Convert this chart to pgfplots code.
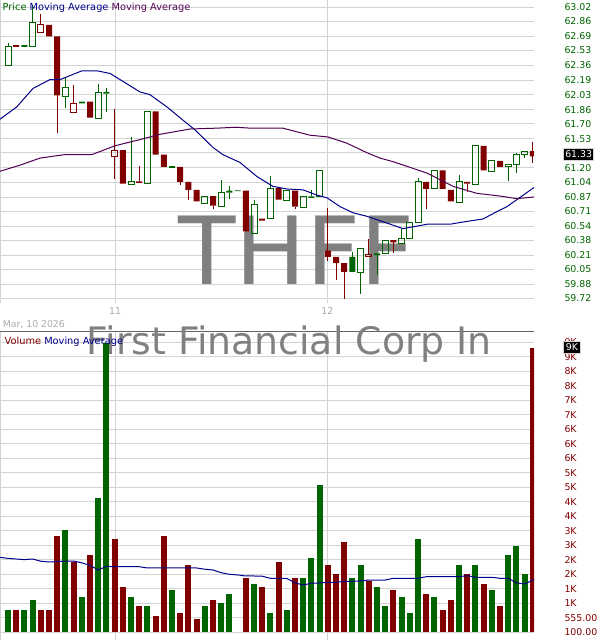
\documentclass[border=0pt]{standalone}
\usepackage{pgfplots}
\pgfplotsset{compat=1.18}
\usepackage{pgfplotstable}
\usepackage{fontspec}
\setmainfont{DejaVu Sans}
\definecolor{cg}{RGB}{0,100,0}
\definecolor{cr}{RGB}{128,0,0}
\definecolor{mablue}{RGB}{0,0,139}
\definecolor{mapurple}{RGB}{80,0,80}
\definecolor{gridc}{RGB}{211,211,211}
\definecolor{topc}{RGB}{100,100,100}
\definecolor{lab}{RGB}{170,170,170}
\definecolor{wm}{RGB}{128,128,128}
\newcommand\tf{\fontsize{9.4bp}{10bp}\selectfont}
\newcommand\ttf{\fontsize{9.8bp}{10bp}\selectfont}

% green hollow candles
\pgfplotstableread{
i o h l c
0 62.36 62.62 62.36 62.58
3 62.58 63.05 62.58 62.85
7 62.01 62.22 61.88 62.11
11 61.76 62.15 61.76 62.05
15 61.01 61.55 61.01 61.04
17 61.02 61.84 61.02 61.84
24 60.80 60.88 60.80 60.88
26 60.76 61.06 60.76 60.92
30 60.46 60.84 60.46 60.78
32 60.62 61.11 60.62 60.97
34 60.83 60.94 60.83 60.94
36 60.75 60.87 60.75 60.87
38 60.87 61.17 60.87 61.17
43 60.01 60.28 59.77 60.28
46 60.23 60.38 60.23 60.38
48 60.34 60.51 60.34 60.40
49 60.40 60.58 60.40 60.58
50 60.58 61.09 60.58 61.04
52 60.96 61.17 60.96 61.17
55 60.81 61.12 60.81 61.04
57 61.01 61.45 61.01 61.45
59 61.16 61.28 61.16 61.28
61 61.21 61.24 61.05 61.24
62 61.24 61.37 61.14 61.35
63 61.35 61.39 61.31 61.39
}\gh
% green filled candles
\pgfplotstableread{
i o h l c
2 62.59 62.59 62.57 62.57
9 61.95 61.95 61.93 61.93
12 62.06 62.11 61.83 62.04
20 61.22 61.22 61.20 61.20
27 60.94 60.99 60.85 60.92
28 60.945 60.945 60.935 60.935
37 60.875 60.95 60.86 60.86
42 60.19 60.24 60.02 60.02
45 60.23 60.23 59.99 60.21
}\gf
% red hollow candles
\pgfplotstableread{
i o h l c
4 62.73 62.94 62.73 62.82
8 61.83 62.14 61.83 61.93
13 61.33 61.87 61.07 61.40
44 60.19 60.39 60.19 60.22
}\rh
% red filled candles
\pgfplotstableread{
i o h l c
1 62.59 62.59 62.57 62.57
5 62.82 62.82 62.69 62.69
6 62.69 62.69 61.59 62.02
10 61.95 61.95 61.77 61.77
14 61.40 61.40 61.02 61.02
16 61.045 61.22 61.03 61.03
18 61.84 61.84 61.35 61.35
19 61.35 61.35 61.21 61.21
21 61.21 61.21 61.00 61.04
22 61.04 61.04 60.84 60.95
23 60.95 60.95 60.82 60.82
25 60.88 60.88 60.73 60.77
29 60.94 60.94 60.48 60.48
31 60.625 60.625 60.60 60.60
33 60.97 60.97 60.84 60.84
35 60.94 60.94 60.73 60.76
39 60.26 60.74 60.14 60.19
40 60.19 60.19 59.93 60.12
41 60.12 60.12 59.71 60.02
47 60.38 60.38 60.23 60.355
51 61.04 61.04 60.73 60.96
53 61.17 61.17 60.96 60.96
54 60.95 60.95 60.82 60.82
56 61.04 61.04 60.93 61.02
58 61.45 61.45 61.17 61.17
60 61.28 61.28 61.21 61.21
64 61.39 61.49 61.26 61.33
}\rf
% short moving average (blue)
\pgfplotstableread{
x p
-1.0 61.75
1.06 61.89
3.05 62.10
5.12 62.20
6.34 62.20
9.02 62.30
10.85 62.30
12.44 62.27
14.02 62.18
16.1 62.06
17.3 62.03
19.39 61.89
21.34 61.74
22.8 61.63
24.02 61.52
25.0 61.43
26.2 61.35
28.3 61.26
30.37 61.10
32.3 60.99
34.0 60.96
35.98 60.95
37.68 60.89
38.9 60.86
40.49 60.76
42.07 60.69
43.78 60.65
45.37 60.60
46.95 60.55
48.17 60.51
51.1 60.56
53.9 60.56
55.12 60.58
57.93 60.62
59.15 60.68
60.85 60.76
62.07 60.84
64.2 60.98
}\mashort
% long moving average (purple)
\pgfplotstableread{
x p
-1.0 61.16
1.46 61.23
3.9 61.31
6.95 61.35
10.24 61.35
13.05 61.45
16.1 61.52
18.54 61.58
22.2 61.64
25.6 61.65
27.7 61.66
29.5 61.65
33.5 61.65
36.8 61.57
39.0 61.55
41.3 61.48
43.8 61.37
45.37 61.31
46.95 61.27
51.1 61.14
54.27 60.99
57.2 60.91
60.0 60.88
62.07 60.85
64.2 60.87
}\malong
% volume, up days
\pgfplotstableread{
i v
0 800
2 800
3 1113
7 3310
9 1208
11 4314
12 9190
15 1208
17 925
20 1427
24 925
26 1019
27 1302
30 1616
32 706
34 800
36 1804
37 2432
38 4722
42 1804
43 2212
45 1522
46 925
48 1208
49 706
50 3028
52 1208
55 2212
57 2212
59 1427
61 2526
62 2808
63 1929
}\vg
% volume, down days
\pgfplotstableread{
i v
1 800
4 800
5 800
6 3122
8 2315
10 2526
13 3028
14 1522
16 925
18 611
19 3122
21 706
22 2212
23 517
25 1113
29 1804
31 1522
33 2306
35 1804
39 2212
40 1929
41 2934
44 1710
47 1427
51 1302
53 800
54 1113
56 1929
58 1616
60 925
64 9030
}\vr
% volume moving average
\pgfplotstableread{
i v
-1 2453
0 2420
1 2400
2 2380
3 2400
4 2330
5 2306
6 2320
7 2337
8 2337
9 2280
10 2200
11 2055
12 2170
13 2158
16 2158
17 2118
23 2118
24 2080
25 2055
26 1970
27 1920
28 1900
29 1867
30 1867
31 1860
32 1794
33 1794
34 1790
35 1650
36 1584
37 1638
38 1650
39 1669
40 1669
41 1700
42 1700
43 1710
44 1741
46 1741
47 1794
50 1794
51 1845
55 1845
56 1876
57 1826
59 1826
60 1794
61 1794
62 1650
63 1620
64.2 1760
}\vma

\newcommand\candles[3]{%
  \pgfplotstablegetrowsof{#1}%
  \pgfmathtruncatemacro\nrows{\pgfplotsretval-1}%
  \pgfplotsforeachungrouped \rr in {0,...,\nrows}{%
    \pgfplotstablegetelem{\rr}{i}\of#1\let\ci\pgfplotsretval
    \pgfplotstablegetelem{\rr}{o}\of#1\let\co\pgfplotsretval
    \pgfplotstablegetelem{\rr}{h}\of#1\let\ch\pgfplotsretval
    \pgfplotstablegetelem{\rr}{l}\of#1\let\cl\pgfplotsretval
    \pgfplotstablegetelem{\rr}{c}\of#1\let\cc\pgfplotsretval
    \pgfmathsetmacro\xa{\ci-0.366}%
    \pgfmathsetmacro\xb{\ci+0.366}%
    \pgfmathsetmacro\bt{max(\co,\cc)}%
    \pgfmathsetmacro\bb{min(\co,\cc)}%
    \edef\candlecmd{%
      \noexpand\addplot[draw=#2, line width=1bp, forget plot] coordinates {(\ci,\ch) (\ci,\bt)};
      \noexpand\addplot[draw=#2, line width=1bp, forget plot] coordinates {(\ci,\bb) (\ci,\cl)};
      \noexpand\addplot[#3, forget plot] coordinates {(\xa,\co) (\xb,\co) (\xb,\cc) (\xa,\cc) (\xa,\co)};
    }%
    \candlecmd
  }%
}

\begin{document}
\begin{tikzpicture}
\path[use as bounding box] (0,0) rectangle (600bp,640bp);
% ---------------- price panel ----------------
\begin{axis}[
  at={(0,337bp)}, anchor=south west, scale only axis,
  width=534bp, height=303bp,
  xmin=-0.976, xmax=64.146, ymin=59.667, ymax=63.103,
  axis line style={draw=none}, major tick length=0pt,
  xtick={-0.976,13.05,38.96}, xticklabels={,11,12},
  xticklabel style={anchor=north, inner sep=0pt, yshift=-4bp, text=lab, font=\tf},
  ytick={59.72,59.88,60.05,60.21,60.38,60.54,60.71,60.87,61.04,61.20,61.37,61.53,61.70,61.86,62.03,62.19,62.36,62.53,62.69,62.86,63.02},
  yticklabels={59.72,59.88,60.05,60.21,60.38,60.54,60.71,60.87,61.04,61.20,61.37,61.53,61.70,61.86,62.03,62.19,62.36,62.53,62.69,62.86,63.02},
  yticklabel pos=right,
  yticklabel style={anchor=west, inner sep=0pt, xshift=30.3bp, text=cg, font=\tf},
  grid=major, grid style={draw=gridc, line width=0.8bp},
  clip mode=individual,
]
\node[anchor=base west, inner sep=0pt, text=wm, font=\fontsize{94bp}{94bp}\selectfont] at (axis cs:20.77,59.882) {THFF};
\candles{\gh}{cg}{draw=cg, line width=1bp, line cap=rect, fill=none}
\candles{\gf}{cg}{draw=none, fill=cg}
\candles{\rh}{cr}{draw=cr, line width=1bp, line cap=rect, fill=none}
\candles{\rf}{cr}{draw=none, fill=cr}
\addplot[mablue, line width=1bp, mark=none] table[x=x, y=p] {\mashort};
\addplot[mapurple, line width=1bp, mark=none] table[x=x, y=p] {\malong};
\end{axis}
% ---------------- volume panel ----------------
\begin{axis}[
  at={(0,0)}, anchor=south west, scale only axis,
  width=534bp, height=308bp,
  xmin=-0.976, xmax=64.146, ymin=-141.6, ymax=9523,
  axis line style={draw=none}, major tick length=0pt,
  xtick={-0.976,13.05,38.96}, xticklabels={,,},
  ytick={100,555,1010,1465,1920,2375,2830,3285,3740,4195,4650,5105,5560,6015,6470,6925,7380,7835,8290,8745,9200},
  yticklabels={100.00,555.00,1K,1K,2K,2K,3K,3K,4K,4K,5K,5K,6K,6K,6K,7K,7K,8K,8K,9K,9K},
  yticklabel pos=right,
  yticklabel style={anchor=west, inner sep=0pt, xshift=30.3bp, text=cr, font=\tf},
  grid=major, grid style={draw=gridc, line width=0.8bp},
  extra y ticks={9523}, extra y tick labels={},
  extra y tick style={grid style={draw=topc, line width=1bp}},
  clip mode=individual,
]
\node[anchor=base west, inner sep=0pt, text=wm, font=\fontsize{37.8bp}{38bp}\selectfont] at (axis cs:9.55,8802) {First Financial Corp In};
\addplot[draw=none, mark=none, forget plot, error bars/.cd, y dir=minus, y explicit, error mark=none,
  error bar style={line width=6bp, draw=cg}] table[x=i, y=v, y error minus expr=\thisrow{v}-100] {\vg};
\addplot[draw=none, mark=none, forget plot, error bars/.cd, y dir=minus, y explicit, error mark=none,
  error bar style={line width=6bp, draw=cr}] table[x=i, y=v, y error minus expr=\thisrow{v}-100] {\vr};
\addplot[mablue, line width=1bp, mark=none] table[x=i, y=v] {\vma};
\end{axis}
% ---------------- texts and value boxes ----------------
\node[anchor=base west, inner sep=0pt, font=\ttf] at (2.5bp,629.7bp)
  {\textcolor{cg}{Price} \textcolor{mablue}{Moving Average} \textcolor{mapurple}{Moving Average}};
\node[anchor=base west, inner sep=0pt, font=\ttf] at (4.5bp,295.7bp)
  {\textcolor{cr}{Volume} \textcolor{mablue}{Moving Average}};
\node[anchor=base west, inner sep=0pt, font=\fontsize{9.3bp}{10bp}\selectfont, text=lab] at (2.7bp,312.7bp) {Mar, 10 2026};
\node[fill=black, draw=gridc, line width=0.8bp, text=white, inner sep=0pt, minimum width=30bp, minimum height=12.4bp, anchor=west, font=\tf] at (563.3bp,485.5bp) {61.33};
\node[fill=black, draw=gridc, line width=0.8bp, text=white, inner sep=0pt, minimum width=16.7bp, minimum height=11.7bp, anchor=west, font=\tf] at (563.3bp,292.5bp) {9K};
\end{tikzpicture}
\end{document}
